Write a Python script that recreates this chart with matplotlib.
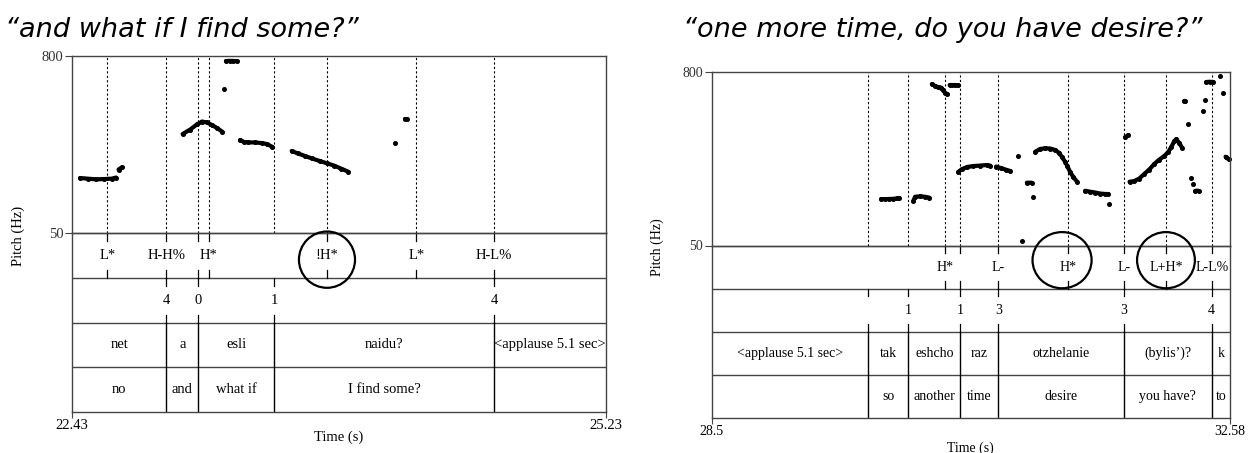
import numpy as np
import matplotlib
matplotlib.use('Agg')
import matplotlib.pyplot as plt
from matplotlib.patches import Ellipse

nan = np.nan

# ---- left utterance: "and what if I find some?" ----
left_t0, left_t1 = 22.43, 25.23
left_pitch_time = [22.472, 22.514, 22.556, 22.598, 22.640, 22.661, nan,
                   22.674, 22.690, nan,
                   23.010, 23.049, 23.085, 23.112, 23.138, 23.164, 23.190, 23.218, nan,
                   23.229, nan,
                   23.237, 23.256, 23.274, 23.293, nan,
                   23.311, 23.332, 23.353, 23.390, 23.426, 23.452, 23.477, nan,
                   23.582, 23.615, 23.652, 23.688, 23.730, 23.767, 23.804, 23.840, 23.879, nan,
                   24.124, nan,
                   24.176, 24.186]
left_pitch_hz = [283.5, 280.6, 278, 279, 281, 285.6, nan,
                 319, 328, nan,
                 469, 488, 509.5, 522, 518, 507, 494.7, 479, nan,
                 658, nan,
                 777.6, 778, 778, 777, nan,
                 444, 435.6, 434, 433.5, 431, 427, 416.5, nan,
                 397.6, 387, 376.4, 366, 355, 345.6, 336, 323.6, 310, nan,
                 432.6, nan,
                 533, 531]
left_tone_times = [22.615, 22.924, 23.092, 23.147, 23.767, 24.235, 24.643]
left_tone_labels = ['L*', 'H-H%', '', 'H*', '!H*', 'L*', 'H-L%']
left_break_times = [22.924, 23.092, 23.491, 24.643]
left_break_labels = ['4', '0', '1', '4']
left_word_bounds = [22.924, 23.092, 23.491, 24.643]
left_words = ['net', 'a', 'esli', 'naidu?', '<applause 5.1 sec>']
left_gloss = ['no', 'and', 'what if', 'I find some?', '']

# ---- right utterance: "one more time, do you have desire?" ----
right_t0, right_t1 = 28.5, 32.58
right_pitch_time = [29.833, 29.864, 29.896, 29.927, 29.959, 29.975, nan,
                    30.088, 30.101, 30.140, 30.180, 30.214, nan,
                    30.233, 30.259, 30.283, 30.306, 30.322, 30.338, 30.354, nan,
                    30.373, 30.393, 30.417, 30.440, nan,
                    30.442, 30.471, 30.511, 30.558, 30.613, 30.668, 30.692, nan,
                    30.739, 30.779, 30.818, 30.850, nan,
                    30.910, nan,
                    30.946, nan,
                    30.981, 31.020, nan,
                    31.033, nan,
                    31.047, 31.086, 31.125, 31.165, 31.204, 31.236, 31.259, 31.283,
                    31.299, 31.322, 31.346, 31.375, nan,
                    31.440, 31.479, 31.519, 31.558, 31.598, 31.621, nan,
                    31.629, nan,
                    31.755, 31.779, nan,
                    31.789, 31.826, 31.866, 31.905, 31.944, 31.984, 32.023, 32.063,
                    32.094, 32.118, 32.142, 32.157, 32.181, 32.202, nan,
                    32.220, 32.228, nan,
                    32.252, nan,
                    32.275, nan,
                    32.291, nan,
                    32.307, 32.333, nan,
                    32.364, nan,
                    32.380, nan,
                    32.393, 32.420, 32.446, nan,
                    32.498, nan,
                    32.525, nan,
                    32.545, 32.569]
right_pitch_hz = [251, 251, 251.5, 252, 254, 256, nan,
                  244, 261, 263, 261, 257, nan,
                  749, 740.6, 736, 734, 723, 710, 704.7, nan,
                  745, 745, 745, 743, nan,
                  369.6, 381, 390, 394, 396, 398.6, 396, nan,
                  392, 385, 378, 372.6, nan,
                  437.5, nan,
                  69.5, nan,
                  322, 322, nan,
                  260, nan,
                  456, 468, 471, 470, 463.5, 450.5, 432, 411.6,
                  394, 368, 346.6, 327, nan,
                  287, 283, 279.5, 275, 273, 273, nan,
                  228, nan,
                  518.5, 528.5, nan,
                  326, 329, 340, 359.6, 379, 403, 422, 437.5,
                  455, 476.5, 502.5, 510, 494, 474, nan,
                  676, 676, nan,
                  576, nan,
                  341, nan,
                  315, nan,
                  287, 287, nan,
                  634, nan,
                  679, nan,
                  758, 759, 758, nan,
                  784, nan,
                  712, nan,
                  434.5, 423]
right_tone_times = [30.339, 30.457, 30.756, 31.302, 31.746, 32.076, 32.436]
right_tone_labels = ['H*', '', 'L-', 'H*', 'L-', 'L+H*', 'L-L%']
right_break_times = [29.733, 30.048, 30.457, 30.756, 31.746, 32.436]
right_break_labels = ['', '1', '1', '3', '3', '4']
right_word_bounds = [29.733, 30.048, 30.457, 30.756, 31.746, 32.436]
right_words = ['<applause 5.1 sec>', 'tak', 'eshcho', 'raz', 'otzhelanie', '(bylis\u2019)?', 'k']
right_gloss = ['', 'so', 'another', 'time', 'desire', 'you have?', 'to']

W, H = 1248, 453
SERIF = 'Liberation Serif'
BOX = '#444444'

fig = plt.figure(figsize=(W / 100, H / 100), dpi=100)


# convert a pixel box (left, top, right, bottom) to figure fraction rect
def px_rect(x0, y0, x1, y1):
    return [x0 / W, 1 - y1 / H, (x1 - x0) / W, (y1 - y0) / H]


def draw_panel(title, title_x, t0, t1, box, p_time, p_hz, tone_t, tone_lab,
               brk_t, brk_lab, bounds, words, gloss, circles, fs, time_dy):
    x0, x1, ytop, y50, ybot = box

    fig.text(title_x / W, 1 - 37 / H, title, fontsize=19.5, style='italic',
             family='DejaVu Sans', va='baseline', ha='left')

    # pitch pane
    ax = fig.add_axes(px_rect(x0, ytop, x1, y50))
    ax.set_xlim(t0, t1)
    ax.set_ylim(50, 800)
    for s in ax.spines.values():
        s.set_color(BOX)
        s.set_linewidth(1.0)
    ax.set_xticks([])
    ax.set_yticks([50, 800])
    ax.set_yticklabels(['50', '800'], family=SERIF, fontsize=fs, color='#333333')
    ax.tick_params(axis='y', direction='out', length=5, width=0.8, pad=1, color=BOX)
    for t in sorted(set(tone_t) | set(brk_t)):
        ax.axvline(t, color='black', lw=0.8, ls=(0, (2, 2)))
    ax.plot(p_time, p_hz, '-o', color='black', lw=3.0, ms=2.6,
            solid_capstyle='round', clip_on=False)

    # tiers pane: tone 3-4, breaks 2-3, words 1-2, gloss 0-1
    tx = fig.add_axes(px_rect(x0, y50, x1, ybot))
    tx.patch.set_visible(False)
    tx.set_xlim(t0, t1)
    tx.set_ylim(0, 4)
    tx.set_yticks([])
    for s in tx.spines.values():
        s.set_color(BOX)
        s.set_linewidth(1.0)
    for y in (1, 2, 3):
        tx.axhline(y, color=BOX, lw=1.0)
    tick = 0.18
    for base, times, labs in ((3, tone_t, tone_lab), (2, brk_t, brk_lab)):
        for t, lab in zip(times, labs):
            tx.plot([t, t], [base + 1, base + 1 - tick], color='black', lw=0.9)
            tx.plot([t, t], [base, base + tick], color='black', lw=0.9)
            tx.text(t, base + 0.5, lab, ha='center', va='center', family=SERIF,
                    fontsize=fs)
    for t in bounds:
        tx.plot([t, t], [0, 2], color='black', lw=1.0)
    edges = [t0] + list(bounds) + [t1]
    for i in range(len(words)):
        mid = (edges[i] + edges[i + 1]) / 2
        tx.text(mid, 1.5, words[i], ha='center', va='center', family=SERIF, fontsize=fs)
        tx.text(mid, 0.5, gloss[i], ha='center', va='center', family=SERIF, fontsize=fs)
    for ct, cy, cw, ch in circles:
        tx.add_patch(Ellipse((ct, cy), cw, ch, fill=False, lw=1.6, color='black',
                             clip_on=False, zorder=5))

    tx.set_xticks([t0, t1])
    tx.set_xticklabels([f'{t0:g}', f'{t1:g}'], family=SERIF, fontsize=fs)
    tx.tick_params(axis='x', direction='out', length=4, width=0.8, pad=1, color=BOX)

    fig.text((x0 + x1) / 2 / W, 1 - (ybot + time_dy) / H, 'Time (s)', ha='center',
             va='center', family=SERIF, fontsize=fs)
    fig.text((x0 - 54) / W, 1 - ((ytop + ybot) / 2 + 2) / H, 'Pitch (Hz)',
             rotation=90, ha='center', va='center', family=SERIF, fontsize=fs)


draw_panel('\u201cand what if I find some?\u201d', 5, left_t0, left_t1,
           (72, 606, 55.7, 233.3, 412),
           left_pitch_time, left_pitch_hz, left_tone_times, left_tone_labels,
           left_break_times, left_break_labels, left_word_bounds, left_words,
           left_gloss, [(23.767, 3.41, 0.294, 1.26)], 10.5, 25)

draw_panel('\u201cone more time, do you have desire?\u201d', 683, right_t0, right_t1,
           (711.7, 1230, 72.3, 245.5, 418.3),
           right_pitch_time, right_pitch_hz, right_tone_times, right_tone_labels,
           right_break_times, right_break_labels, right_word_bounds, right_words,
           right_gloss, [(31.258, 3.66, 0.465, 1.30), (32.076, 3.66, 0.455, 1.30)],
           10, 30)

fig.savefig('out.png', dpi=100)
